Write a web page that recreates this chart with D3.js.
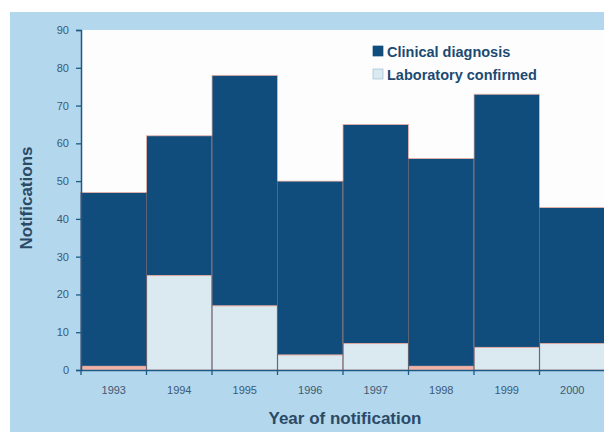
<!DOCTYPE html>
<html>
<head>
<meta charset="utf-8">
<script src="https://cdn.jsdelivr.net/npm/d3@7"></script>
<style>
  body { margin: 0; background: #fff; }
  text { font-family: Arial, "Liberation Sans", sans-serif; }
</style>
</head>
<body>
<svg id="chart" width="604" height="432"></svg>
<script>
'use strict';

var years = ['1993', '1994', '1995', '1996', '1997', '1998', '1999', '2000'];
var clinical = [46, 37, 61, 46, 58, 55, 67, 36];
var laboratory = [1, 25, 17, 4, 7, 1, 6, 7];
var yTicks = [0, 10, 20, 30, 40, 50, 60, 70, 80, 90];
var seriesNames = ['Clinical diagnosis', 'Laboratory confirmed'];

var colors = { clinical: '#114d7c', lab: '#dbe9f1', bg: '#b3d7ed', edge: '#f2b3a6' };

var svg = d3.select('#chart');
var margin = { left: 81, right: 0, top: 30, bottom: 62 };
var W = 604, H = 432;

// outer panel
svg.append('rect')
  .attr('x', 10).attr('y', 12)
  .attr('width', W - 10).attr('height', H - 12)
  .attr('fill', colors.bg);

var x = d3.scaleBand().domain(years)
  .range([margin.left, W + 1]).padding(0);
var y = d3.scaleLinear().domain([0, 90])
  .range([H - margin.bottom, margin.top]);

// plot area
svg.append('rect')
  .attr('x', margin.left).attr('y', margin.top)
  .attr('width', W - margin.left).attr('height', y(0) - margin.top)
  .attr('fill', '#fdfdfe');

var stacked = years.map(function (d, i) {
  return { year: d, lab: laboratory[i], clin: clinical[i] };
});

var g = svg.append('g').attr('class', 'bars');

g.selectAll('rect.lab')
  .data(stacked)
  .enter().append('rect')
  .attr('class', 'lab')
  .attr('x', function (d) { return x(d.year); })
  .attr('y', function (d) { return y(d.lab); })
  .attr('width', x.bandwidth())
  .attr('height', function (d) { return y(0) - y(d.lab); })
  .attr('fill', function (d) { return d.lab < 2 ? colors.edge : colors.lab; })
  .attr('stroke', colors.edge)
  .attr('stroke-width', 1);

g.selectAll('rect.clin')
  .data(stacked)
  .enter().append('rect')
  .attr('class', 'clin')
  .attr('x', function (d) { return x(d.year); })
  .attr('y', function (d) { return y(d.lab + d.clin); })
  .attr('width', x.bandwidth())
  .attr('height', function (d) { return y(d.lab) - y(d.lab + d.clin); })
  .attr('fill', colors.clinical)
  .attr('stroke', colors.edge)
  .attr('stroke-width', 0.8);

// bar dividers
g.selectAll('line.div')
  .data(stacked)
  .enter().append('line')
  .attr('class', 'div')
  .attr('x1', function (d) { return x(d.year); })
  .attr('x2', function (d) { return x(d.year); })
  .attr('y1', function (d, i) {
    var prev = i > 0 ? stacked[i - 1] : null;
    var top = d.lab + d.clin;
    if (prev) top = Math.min(top, prev.lab + prev.clin);
    return y(top);
  })
  .attr('y2', y(0))
  .attr('stroke', '#0b3556')
  .attr('stroke-opacity', 0.6)
  .attr('stroke-width', 1.2);

// y axis
var yAxis = svg.append('g')
  .attr('transform', 'translate(' + margin.left + ',0)')
  .call(d3.axisLeft(y).tickValues(yTicks).tickSize(5).tickPadding(7));
yAxis.select('.domain').attr('stroke', '#1d5a86').attr('stroke-width', 1.5);
yAxis.selectAll('.tick line').attr('stroke', '#1d5a86').attr('stroke-width', 1.3);
yAxis.selectAll('.tick text')
  .attr('fill', '#3b5a75').attr('font-size', 11);

// x axis
var xAxis = svg.append('g')
  .attr('transform', 'translate(0,' + y(0) + ')')
  .call(d3.axisBottom(x).tickSize(0).tickPadding(16));
xAxis.select('.domain').attr('stroke', '#1d5a86').attr('stroke-width', 1.5);
xAxis.selectAll('.tick text')
  .attr('fill', '#3b5a75').attr('font-size', 11);
xAxis.selectAll('.tickmark')
  .data(years)
  .enter().append('line')
  .attr('x1', function (d) { return x(d); })
  .attr('x2', function (d) { return x(d); })
  .attr('y1', 0).attr('y2', 5)
  .attr('stroke', '#1d5a86')
  .attr('stroke-width', 1.3);

// axis titles
svg.append('text')
  .attr('transform', 'translate(32,' + 198 + ') rotate(-90)')
  .attr('text-anchor', 'middle')
  .attr('font-size', 17)
  .attr('font-weight', 'bold')
  .attr('fill', '#2b4a66')
  .text('Notifications');

svg.append('text')
  .attr('x', 345).attr('y', 424)
  .attr('text-anchor', 'middle')
  .attr('font-size', 17)
  .attr('font-weight', 'bold')
  .attr('fill', '#2b4a66')
  .text('Year of notification');

// legend
var legend = svg.append('g').attr('transform', 'translate(373,46)');
legend.selectAll('g.item')
  .data(seriesNames)
  .enter().append('g')
  .attr('class', 'item')
  .attr('transform', function (d, i) { return 'translate(0,' + (i * 23) + ')'; })
  .each(function (d, i) {
    var el = d3.select(this);
    el.append('rect')
      .attr('width', 10).attr('height', 10)
      .attr('fill', i === 0 ? colors.clinical : colors.lab)
      .attr('stroke', i === 0 ? colors.clinical : '#9cc0d8')
      .attr('stroke-width', 0.7);
    el.append('text')
      .attr('x', 14).attr('y', 10.5)
      .attr('font-size', 14.5)
      .attr('font-weight', 'bold')
      .attr('fill', '#1c4a72')
      .text(d);
  });
</script>
</body>
</html>
